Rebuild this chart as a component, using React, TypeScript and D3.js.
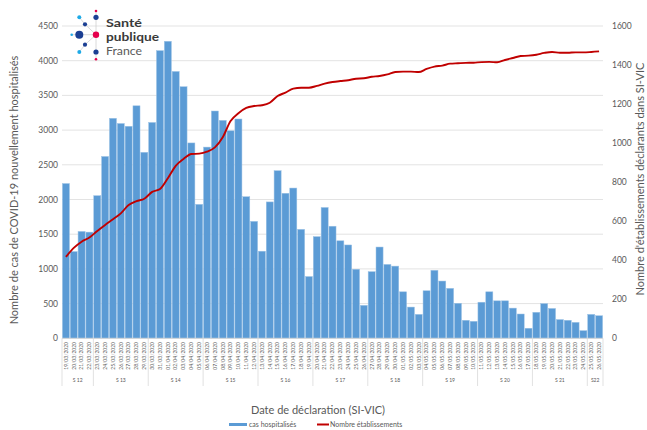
import React from "react";
import * as d3 from "d3";

const dates = [
  "19/03/2020","20/03/2020","21/03/2020","22/03/2020","23/03/2020","24/03/2020","25/03/2020","26/03/2020","27/03/2020","28/03/2020",
  "29/03/2020","30/03/2020","31/03/2020","01/04/2020","02/04/2020","03/04/2020","04/04/2020","05/04/2020","06/04/2020","07/04/2020",
  "08/04/2020","09/04/2020","10/04/2020","11/04/2020","12/04/2020","13/04/2020","14/04/2020","15/04/2020","16/04/2020","17/04/2020",
  "18/04/2020","19/04/2020","20/04/2020","21/04/2020","22/04/2020","23/04/2020","24/04/2020","25/04/2020","26/04/2020","27/04/2020",
  "28/04/2020","29/04/2020","30/04/2020","01/05/2020","02/05/2020","03/05/2020","04/05/2020","05/05/2020","06/05/2020","07/05/2020",
  "08/05/2020","09/05/2020","10/05/2020","11/05/2020","12/05/2020","13/05/2020","14/05/2020","15/05/2020","16/05/2020","17/05/2020",
  "18/05/2020","19/05/2020","20/05/2020","21/05/2020","22/05/2020","23/05/2020","24/05/2020","25/05/2020","26/05/2020"
];

const casHospitalises = [
  2230,1250,1540,1530,2055,2620,3170,3095,3055,3350,
  2680,3110,4145,4280,3845,3625,2815,1930,2755,3275,
  3140,2990,3160,2040,1685,1255,1965,2415,2090,2165,
  1570,890,1465,1885,1615,1405,1345,995,475,960,
  1315,1065,1040,670,450,345,685,980,825,720,
  505,260,245,520,670,540,540,435,350,145,
  375,500,430,270,260,230,110,345,325
];

const nombreEtablissements = [
  417,463,495,516,550,581,610,640,683,703,
  715,750,765,820,883,919,944,946,956,978,
  1030,1113,1153,1180,1190,1194,1207,1241,1259,1279,
  1284,1284,1293,1305,1313,1318,1322,1330,1332,1340,
  1344,1352,1364,1366,1366,1364,1380,1392,1397,1407,
  1409,1411,1412,1415,1416,1414,1426,1436,1446,1448,
  1453,1462,1467,1463,1463,1465,1465,1467,1470
];

const weekLabels = ["S 12","S 13","S 14","S 15","S 16","S 17","S 18","S 19","S 20","S 21","S22"];
const weekSizes = [4,7,7,7,7,7,7,7,7,7,2];

const leftTicks = [0,500,1000,1500,2000,2500,3000,3500,4000,4500];
const rightTicks = [0,200,400,600,800,1000,1200,1400,1600];

const W = 647, H = 430;
const FONT = "Lato, 'Open Sans', sans-serif";
const GREY = "#595959";

export default function App() {
  const left = 62, right = 603, top = 26, bottom = 338.3;
  const x = d3.scaleBand<string>().domain(dates).range([left, right]).paddingInner(0.1).paddingOuter(0.05);
  const yL = d3.scaleLinear().domain([0, 4500]).range([bottom, top]);
  const yR = d3.scaleLinear().domain([0, 1600]).range([bottom, top]);
  const step = x.step();
  const line = d3.line<number>()
    .x((_, i) => (x(dates[i]) as number) + x.bandwidth() / 2)
    .y((d) => yR(d))
    .curve(d3.curveMonotoneX);

  let acc = 0;
  const groups = weekSizes.map((n, i) => {
    const s = acc; acc += n;
    const x0 = (x(dates[s]) as number) - (step - x.bandwidth()) / 2;
    const x1 = (x(dates[acc - 1]) as number) + x.bandwidth() + (step - x.bandwidth()) / 2;
    return { label: weekLabels[i], x0, x1 };
  });

  return (
    <svg width={W} height={H} style={{ position: "absolute", left: 0, top: 0, background: "#fff" }} fontFamily={FONT}>
      <rect width={W} height={H} fill="#fff" />
      {leftTicks.map((t) => (
        <line key={t} x1={left} x2={right} y1={yL(t)} y2={yL(t)} stroke="#e3e3e3" strokeWidth={1} />
      ))}
      {leftTicks.map((t) => (
        <text key={"l" + t} x={58} y={yL(t) + 3} textAnchor="end" fontSize={8.5} fill={GREY}>{t}</text>
      ))}
      {rightTicks.map((t) => (
        <text key={"r" + t} x={612} y={yR(t) + 3} textAnchor="start" fontSize={8.5} fill={GREY}>{t}</text>
      ))}
      {casHospitalises.map((v, i) => (
        <rect key={i} x={x(dates[i])} y={yL(v)} width={x.bandwidth()} height={bottom - yL(v)}
          fill="#5B9BD5" stroke="#9DC3E6" strokeWidth={0.5} />
      ))}
      <path d={line(nombreEtablissements) || ""} fill="none" stroke="#C00000" strokeWidth={1.9} strokeLinejoin="round" />
      <line x1={left} x2={right} y1={bottom} y2={bottom} stroke="#d9d9d9" strokeWidth={1} />
      {dates.map((d, i) => {
        const cx = (x(d) as number) + x.bandwidth() / 2;
        return (
          <text key={d} transform={`translate(${cx + 1.8},342) rotate(-90)`} textAnchor="end" fontSize={5} fill={GREY}>{d}</text>
        );
      })}
      {groups.map((g, i) => (
        <g key={g.label}>
          {i === 0 && <line x1={g.x0} x2={g.x0} y1={bottom} y2={386} stroke="#d9d9d9" strokeWidth={0.8} />}
          <line x1={g.x1} x2={g.x1} y1={bottom} y2={386} stroke="#d9d9d9" strokeWidth={0.8} />
          <text x={(g.x0 + g.x1) / 2} y={382} textAnchor="middle" fontSize={5} fill={GREY}>{g.label}</text>
        </g>
      ))}
      <text transform="translate(18,190) rotate(-90)" textAnchor="middle" fontSize={11} fill={GREY}>
        Nombre de cas de COVID-19 nouvellement hospitalisés
      </text>
      <text transform="translate(644,179) rotate(-90)" textAnchor="middle" fontSize={11} fill={GREY}>
        Nombre d'établissements déclarants dans SI-VIC
      </text>
      <text x={318} y={414} textAnchor="middle" fontSize={11} fill={GREY}>Date de déclaration (SI-VIC)</text>
      <rect x={229} y={423} width={18} height={3} fill="#5B9BD5" />
      <text x={249} y={427} fontSize={7} fill={GREY}>cas hospitalisés</text>
      <line x1={317} x2={329} y1={424.5} y2={424.5} stroke="#C00000" strokeWidth={2} />
      <text x={330} y={427} fontSize={7} fill={GREY}>Nombre établissements</text>
      <g>
        <g stroke="#d0d0d0" strokeWidth={0.8}>
          <line x1={96} y1={11} x2={96} y2={59} />
          <line x1={72} y1={34.7} x2={96} y2={34.7} />
          <line x1={85} y1={24.3} x2={96} y2={34.7} />
          <line x1={85} y1={44.7} x2={96} y2={34.7} />
          <line x1={79.3} y1={17.3} x2={85} y2={24.3} />
          <line x1={79.3} y1={52} x2={85} y2={44.7} />
        </g>
        <circle cx={96} cy={11} r={1.3} fill="#E5004C" />
        <circle cx={79.3} cy={17.3} r={2} fill="#1EAAE7" />
        <circle cx={96} cy={17.3} r={2.6} fill="#1B3F93" />
        <circle cx={85} cy={24.3} r={2.1} fill="#1B3F93" />
        <circle cx={71.7} cy={34.7} r={1.3} fill="#1EAAE7" />
        <circle cx={79.3} cy={34.7} r={4} fill="#1B3F93" />
        <circle cx={96} cy={34.7} r={3.2} fill="#E5004C" />
        <circle cx={85} cy={44.7} r={2.1} fill="#1B3F93" />
        <circle cx={79.3} cy={52} r={2} fill="#1EAAE7" />
        <circle cx={96} cy={52} r={2.6} fill="#1B3F93" />
        <circle cx={96} cy={59.3} r={1.3} fill="#E5004C" />
        <text x={106} y={26.5} fontSize={12} fontWeight="bold" fill="#3a3a3a" textLength={36} lengthAdjust="spacingAndGlyphs">Santé</text>
        <text x={106} y={40.5} fontSize={12} fontWeight="bold" fill="#3a3a3a" textLength={53} lengthAdjust="spacingAndGlyphs">publique</text>
        <text x={106} y={55} fontSize={12} fill="#5a5a5a" textLength={36} lengthAdjust="spacingAndGlyphs">France</text>
      </g>
    </svg>
  );
}
